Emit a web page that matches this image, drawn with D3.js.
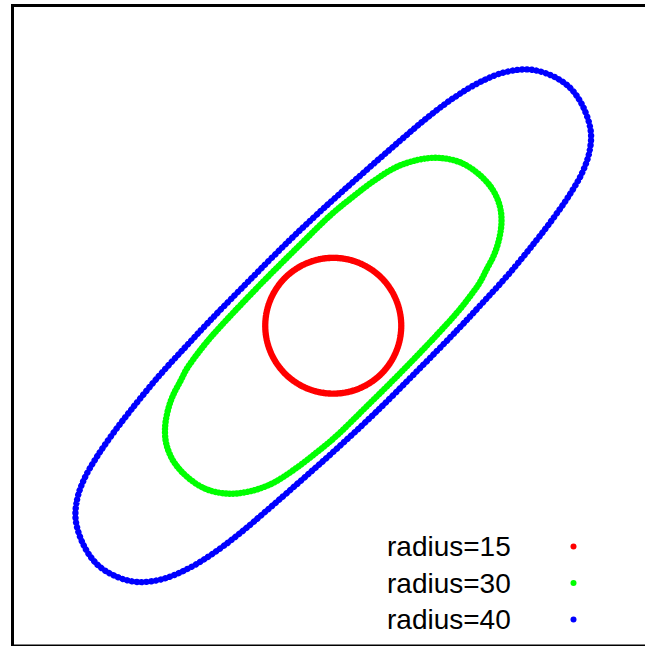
<!DOCTYPE html>
<html>
<head>
<meta charset="utf-8">
<script src="https://cdn.jsdelivr.net/npm/d3@7/dist/d3.min.js"></script>
<style>
  html, body { margin: 0; padding: 0; background: #fff; }
  svg { display: block; }
</style>
</head>
<body>
<svg id="chart" width="645" height="646"></svg>
<script>
// Closed curves of points, each at a given radius (x, y in plot units).
const radius15 = [
  [15, 0], [14.49, 3.88], [12.99, 7.5], [10.61, 10.61], [7.5, 12.99], [3.88, 14.49],
  [0, 15], [-3.88, 14.49], [-7.5, 12.99], [-10.61, 10.61], [-12.99, 7.5], [-14.49, 3.88],
  [-15, 0], [-14.49, -3.88], [-12.99, -7.5], [-10.61, -10.61], [-7.5, -12.99], [-3.88, -14.49],
  [0, -15], [3.88, -14.49], [7.5, -12.99], [10.61, -10.61], [12.99, -7.5], [14.49, -3.88]
];

const radius30 = [
  [-37.1, -22.6], [-36.5, -18.8], [-35.4, -15.5], [-33.8, -12.4], [-32.3, -9.5], [-30.1, -6.4],
  [-27.9, -3.6], [-25.0, -0.3], [-16.2, 9.0], [-7.4, 17.8], [-0.3, 24.7], [3.7, 28.0],
  [8.8, 31.9], [13.8, 35.0], [18.5, 36.6], [23.1, 37.1], [28.0, 36.1], [32.1, 33.5],
  [35.2, 30.0], [36.8, 26.2],
  [37.1, 22.6], [36.5, 18.8], [35.4, 15.5], [33.8, 12.4], [32.3, 9.5], [30.1, 6.4],
  [27.9, 3.6], [25.0, 0.3], [16.2, -9.0], [7.4, -17.8], [0.3, -24.7], [-3.7, -28.0],
  [-8.8, -31.9], [-13.8, -35.0], [-18.5, -36.6], [-23.1, -37.1], [-28.0, -36.1], [-32.1, -33.5],
  [-35.2, -30.0], [-36.8, -26.2]
];

const radius40 = [
  [-56.8, -43.0], [-56.5, -38.4], [-55.0, -34.0], [-52.3, -29.2], [-48.8, -24.1], [-44.6, -18.6],
  [-38.7, -11.4], [-32.7, -4.8], [-27.4, 0.9], [-19.0, 9.5], [-9.1, 19.4], [-0.3, 27.6],
  [7.0, 34.1], [14.3, 40.5], [20.9, 46.1], [26.8, 50.5], [32.3, 53.8], [37.8, 56.0],
  [43.3, 56.6], [48.1, 55.3], [52.1, 52.7], [55.0, 48.6],
  [56.8, 43.0], [56.5, 38.4], [55.0, 34.0], [52.3, 29.2], [48.8, 24.1], [44.6, 18.6],
  [38.7, 11.4], [32.7, 4.8], [27.4, -0.9], [19.0, -9.5], [9.1, -19.4], [0.3, -27.6],
  [-7.0, -34.1], [-14.3, -40.5], [-20.9, -46.1], [-26.8, -50.5], [-32.3, -53.8], [-37.8, -56.0],
  [-43.3, -56.6], [-48.1, -55.3], [-52.1, -52.7], [-55.0, -48.6]
];

const labels = ["radius=15", "radius=30", "radius=40"];
const colors = ["#ff0000", "#00ff00", "#0000ff"];
const curves = [radius15, radius30, radius40];
const dotGaps = [1.5, 3.6, 4.8];

const svg = d3.select("#chart");

const x = d3.scaleLinear().domain([-70.75, 70.75]).range([12.5, 654]);
const y = d3.scaleLinear().domain([-70.75, 70.75]).range([646, 5.5]);

// plot frame
svg.append("rect")
  .attr("x", 12.5).attr("y", 5.5)
  .attr("width", 650).attr("height", 640.5)
  .attr("fill", "none")
  .attr("stroke", "#000")
  .attr("stroke-width", 3);

const line = d3.line()
  .x(d => x(d[0]))
  .y(d => y(d[1]))
  .curve(d3.curveCatmullRomClosed.alpha(0.5));

// each curve is drawn as a run of round dots along its outline
svg.append("g").selectAll("path")
  .data(curves)
  .join("path")
  .attr("d", d => line(d))
  .attr("fill", "none")
  .attr("stroke", (d, i) => colors[i])
  .attr("stroke-width", 6.4)
  .attr("stroke-linecap", "round")
  .attr("stroke-dasharray", (d, i) => `0.01 ${dotGaps[i]}`);

// key
const key = svg.append("g").attr("transform", "translate(387,556)");
const rows = key.selectAll("g")
  .data(labels)
  .join("g")
  .attr("transform", (d, i) => `translate(0,${i * 36.5})`);

rows.append("text")
  .attr("x", 0).attr("y", 0)
  .attr("font-family", "'Liberation Sans', Arial, Helvetica, sans-serif")
  .attr("font-size", 28)
  .attr("fill", "#000")
  .text(d => d);

rows.append("circle")
  .attr("cx", 186.5).attr("cy", -9.5)
  .attr("r", 3)
  .attr("fill", (d, i) => colors[i]);
</script>
</body>
</html>
